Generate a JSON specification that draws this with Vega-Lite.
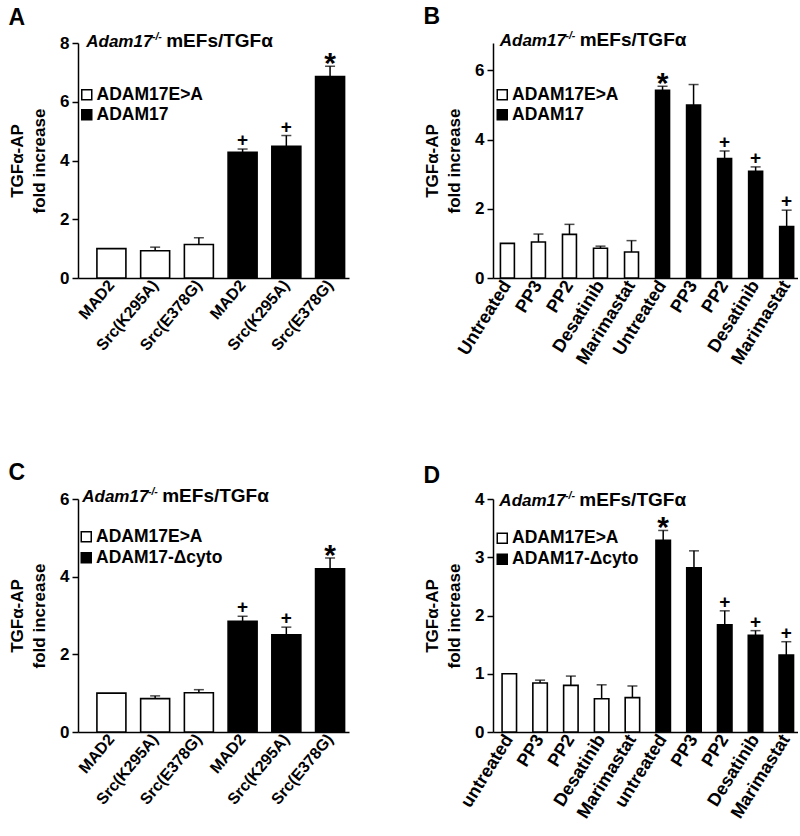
{
  "$schema": "https://vega.github.io/schema/vega-lite/v6.json",
  "background": "white",
  "padding": {"left": 8, "top": 5, "right": 0, "bottom": 0},
  "bounds": "flush",
  "columns": 2,
  "spacing": {"row": 221, "column": 144},
  "resolve": {
    "scale": {"x": "independent", "y": "independent", "fill": "independent"},
    "legend": {"fill": "independent"}
  },
  "config": {
    "font": "Liberation Sans",
    "view": {"stroke": null},
    "axis": {
      "grid": false,
      "labelFont": "Liberation Sans",
      "titleFont": "Liberation Sans",
      "labelFontWeight": "bold",
      "titleFontWeight": "bold",
      "labelColor": "black",
      "titleColor": "black",
      "domainColor": "black",
      "tickColor": "black",
      "domainWidth": 1.5,
      "tickWidth": 1.5
    },
    "legend": {
      "labelFont": "Liberation Sans",
      "labelFontWeight": "bold",
      "labelFontSize": 17.5,
      "labelColor": "black",
      "symbolType": "square",
      "symbolSize": 100,
      "symbolStrokeColor": "black",
      "symbolStrokeWidth": 1.5,
      "labelOffset": 1,
      "rowPadding": 1,
      "padding": 0,
      "title": null
    },
    "title": {
      "font": "Liberation Sans",
      "fontSize": 23,
      "fontWeight": "bold",
      "color": "black",
      "anchor": "start",
      "frame": "bounds",
      "offset": 2
    }
  },
  "datasets": {
    "a": [
      {"k": "1|MAD2", "g": "ADAM17E>A", "v": 1.0, "e": null, "s": ""},
      {"k": "2|Src(K295A)", "g": "ADAM17E>A", "v": 0.93, "e": 1.05, "s": ""},
      {"k": "3|Src(E378G)", "g": "ADAM17E>A", "v": 1.14, "e": 1.37, "s": ""},
      {"k": "4|MAD2", "g": "ADAM17", "v": 4.28, "e": 4.39, "s": "+"},
      {"k": "5|Src(K295A)", "g": "ADAM17", "v": 4.48, "e": 4.85, "s": "+"},
      {"k": "6|Src(E378G)", "g": "ADAM17", "v": 6.86, "e": 7.21, "s": "*"}
    ],
    "b": [
      {"k": "1|Untreated", "g": "ADAM17E>A", "v": 1.0, "e": null, "s": ""},
      {"k": "2|PP3", "g": "ADAM17E>A", "v": 1.04, "e": 1.27, "s": ""},
      {"k": "3|PP2", "g": "ADAM17E>A", "v": 1.26, "e": 1.55, "s": ""},
      {"k": "4|Desatinib", "g": "ADAM17E>A", "v": 0.86, "e": 0.92, "s": ""},
      {"k": "5|Marimastat", "g": "ADAM17E>A", "v": 0.75, "e": 1.08, "s": ""},
      {"k": "6|Untreated", "g": "ADAM17", "v": 5.42, "e": 5.54, "s": "*"},
      {"k": "7|PP3", "g": "ADAM17", "v": 5.0, "e": 5.59, "s": ""},
      {"k": "8|PP2", "g": "ADAM17", "v": 3.45, "e": 3.67, "s": "+"},
      {"k": "9|Desatinib", "g": "ADAM17", "v": 3.08, "e": 3.21, "s": "+"},
      {"k": "10|Marimastat", "g": "ADAM17", "v": 1.49, "e": 1.96, "s": "+"}
    ],
    "c": [
      {"k": "1|MAD2", "g": "ADAM17E>A", "v": 1.0, "e": null, "s": ""},
      {"k": "2|Src(K295A)", "g": "ADAM17E>A", "v": 0.86, "e": 0.93, "s": ""},
      {"k": "3|Src(E378G)", "g": "ADAM17E>A", "v": 1.01, "e": 1.09, "s": ""},
      {"k": "4|MAD2", "g": "ADAM17-Δcyto", "v": 2.85, "e": 2.98, "s": "+"},
      {"k": "5|Src(K295A)", "g": "ADAM17-Δcyto", "v": 2.5, "e": 2.7, "s": "+"},
      {"k": "6|Src(E378G)", "g": "ADAM17-Δcyto", "v": 4.2, "e": 4.48, "s": "*"}
    ],
    "d": [
      {"k": "1|untreated", "g": "ADAM17E>A", "v": 1.0, "e": null, "s": ""},
      {"k": "2|PP3", "g": "ADAM17E>A", "v": 0.84, "e": 0.89, "s": ""},
      {"k": "3|PP2", "g": "ADAM17E>A", "v": 0.8, "e": 0.96, "s": ""},
      {"k": "4|Desatinib", "g": "ADAM17E>A", "v": 0.57, "e": 0.81, "s": ""},
      {"k": "5|Marimastat", "g": "ADAM17E>A", "v": 0.59, "e": 0.79, "s": ""},
      {"k": "6|untreated", "g": "ADAM17-Δcyto", "v": 3.29, "e": 3.46, "s": "*"},
      {"k": "7|PP3", "g": "ADAM17-Δcyto", "v": 2.82, "e": 3.11, "s": ""},
      {"k": "8|PP2", "g": "ADAM17-Δcyto", "v": 1.84, "e": 2.08, "s": "+"},
      {"k": "9|Desatinib", "g": "ADAM17-Δcyto", "v": 1.66, "e": 1.74, "s": "+"},
      {"k": "10|Marimastat", "g": "ADAM17-Δcyto", "v": 1.32, "e": 1.55, "s": "+"}
    ],
    "t": [{"t1": "Adam17", "t2": "-/-", "t3": "mEFs/TGFα"}]
  },
  "concat": [
    {
      "width": 271, "height": 235,
      "title": {"text": "A"},
      "data": {"name": "a"},
      "encoding": {
        "x": {"field": "k", "type": "nominal", "sort": null,
          "scale": {"paddingInner": 0.337, "paddingOuter": 0.267, "align": 0.81},
          "axis": {"title": null, "ticks": false, "labelExpr": "split(datum.label, '|')[1]", "labelAngle": -50, "labelFontSize": 16, "labelPadding": 4}}
      },
      "layer": [
        {"mark": {"type": "bar", "stroke": "black", "strokeWidth": 1.6},
          "encoding": {
            "y": {"field": "v", "type": "quantitative", "scale": {"domain": [0, 8], "nice": false},
              "axis": {"values": [0, 2, 4, 6, 8], "format": "d", "title": ["TGFα-AP", "fold increase"], "titleFontSize": 17, "titleLineHeight": 22, "titlePadding": 11, "labelFontSize": 17, "tickSize": 6, "labelPadding": 3}},
            "fill": {"field": "g", "type": "nominal", "scale": {"domain": ["ADAM17E>A", "ADAM17"], "range": ["white", "black"]},
              "legend": {"orient": "none", "legendX": 0, "legendY": 43}}
          }},
        {"transform": [{"filter": "isValid(datum.e)"}],
          "mark": {"type": "rule", "color": "black", "strokeWidth": 1.5},
          "encoding": {"y": {"field": "v", "type": "quantitative"}, "y2": {"field": "e"}}},
        {"transform": [{"filter": "isValid(datum.e)"}],
          "mark": {"type": "tick", "color": "black", "size": 10, "thickness": 1.5},
          "encoding": {"y": {"field": "e", "type": "quantitative"}}},
        {"transform": [{"filter": "datum.s == '+'"}],
          "mark": {"type": "text", "fontSize": 19, "fontWeight": "bold", "baseline": "alphabetic", "dy": -3, "color": "black"},
          "encoding": {"y": {"field": "e", "type": "quantitative"}, "text": {"field": "s"}}},
        {"transform": [{"filter": "datum.s == '*'"}],
          "mark": {"type": "text", "fontSize": 30, "fontWeight": "bold", "baseline": "alphabetic", "dy": 7, "color": "black"},
          "encoding": {"y": {"field": "e", "type": "quantitative"}, "text": {"field": "s"}}},
        {"data": {"name": "t"},
          "mark": {"type": "text", "fontSize": 17, "fontWeight": "bold", "fontStyle": "italic", "align": "left", "baseline": "alphabetic", "dx": -10.7, "dy": 4.3, "color": "black"},
          "encoding": {"x": {"datum": "1|MAD2", "type": "nominal", "bandPosition": 0}, "y": {"datum": 8, "type": "quantitative"}, "text": {"field": "t1"}}},
        {"data": {"name": "t"},
          "mark": {"type": "text", "fontSize": 10.5, "fontWeight": "bold", "fontStyle": "italic", "align": "left", "baseline": "alphabetic", "dx": 55, "dy": -3, "color": "black"},
          "encoding": {"x": {"datum": "1|MAD2", "type": "nominal", "bandPosition": 0}, "y": {"datum": 8, "type": "quantitative"}, "text": {"field": "t2"}}},
        {"data": {"name": "t"},
          "mark": {"type": "text", "fontSize": 19, "fontWeight": "bold", "align": "left", "baseline": "alphabetic", "dx": 69.3, "dy": 4.3, "color": "black"},
          "encoding": {"x": {"datum": "1|MAD2", "type": "nominal", "bandPosition": 0}, "y": {"datum": 8, "type": "quantitative"}, "text": {"field": "t3"}}}
      ]
    },
    {
      "width": 305, "height": 235,
      "title": {"text": "B"},
      "data": {"name": "b"},
      "encoding": {
        "x": {"field": "k", "type": "nominal", "sort": null,
          "scale": {"paddingInner": 0.55, "paddingOuter": 0.19, "align": 0.63},
          "axis": {"title": null, "ticks": false, "labelExpr": "split(datum.label, '|')[1]", "labelAngle": -58, "labelFontSize": 18, "labelPadding": 4}}
      },
      "layer": [
        {"mark": {"type": "bar", "stroke": "black", "strokeWidth": 1.6},
          "encoding": {
            "y": {"field": "v", "type": "quantitative", "scale": {"domain": [0, 6.79], "nice": false},
              "axis": {"values": [0, 2, 4, 6], "format": "d", "title": ["TGFα-AP", "fold increase"], "titleFontSize": 17, "titleLineHeight": 22, "titlePadding": 11, "labelFontSize": 17, "tickSize": 6, "labelPadding": 3}},
            "fill": {"field": "g", "type": "nominal", "scale": {"domain": ["ADAM17E>A", "ADAM17"], "range": ["white", "black"]},
              "legend": {"orient": "none", "legendX": 0.5, "legendY": 43}}
          }},
        {"transform": [{"filter": "isValid(datum.e)"}],
          "mark": {"type": "rule", "color": "black", "strokeWidth": 1.5},
          "encoding": {"y": {"field": "v", "type": "quantitative"}, "y2": {"field": "e"}}},
        {"transform": [{"filter": "isValid(datum.e)"}],
          "mark": {"type": "tick", "color": "black", "size": 10, "thickness": 1.5},
          "encoding": {"y": {"field": "e", "type": "quantitative"}}},
        {"transform": [{"filter": "datum.s == '+'"}],
          "mark": {"type": "text", "fontSize": 19, "fontWeight": "bold", "baseline": "alphabetic", "dy": -3, "color": "black"},
          "encoding": {"y": {"field": "e", "type": "quantitative"}, "text": {"field": "s"}}},
        {"transform": [{"filter": "datum.s == '*'"}],
          "mark": {"type": "text", "fontSize": 30, "fontWeight": "bold", "baseline": "alphabetic", "dy": 7, "color": "black"},
          "encoding": {"y": {"field": "e", "type": "quantitative"}, "text": {"field": "s"}}},
        {"data": {"name": "t"},
          "mark": {"type": "text", "fontSize": 17, "fontWeight": "bold", "fontStyle": "italic", "align": "left", "baseline": "alphabetic", "dx": -0.7, "dy": 2.7, "color": "black"},
          "encoding": {"x": {"datum": "1|Untreated", "type": "nominal", "bandPosition": 0}, "y": {"datum": 6.79, "type": "quantitative"}, "text": {"field": "t1"}}},
        {"data": {"name": "t"},
          "mark": {"type": "text", "fontSize": 10.5, "fontWeight": "bold", "fontStyle": "italic", "align": "left", "baseline": "alphabetic", "dx": 65, "dy": -4.5, "color": "black"},
          "encoding": {"x": {"datum": "1|Untreated", "type": "nominal", "bandPosition": 0}, "y": {"datum": 6.79, "type": "quantitative"}, "text": {"field": "t2"}}},
        {"data": {"name": "t"},
          "mark": {"type": "text", "fontSize": 19, "fontWeight": "bold", "align": "left", "baseline": "alphabetic", "dx": 79.3, "dy": 2.7, "color": "black"},
          "encoding": {"x": {"datum": "1|Untreated", "type": "nominal", "bandPosition": 0}, "y": {"datum": 6.79, "type": "quantitative"}, "text": {"field": "t3"}}}
      ]
    },
    {
      "width": 271, "height": 233,
      "title": {"text": "C"},
      "data": {"name": "c"},
      "encoding": {
        "x": {"field": "k", "type": "nominal", "sort": null,
          "scale": {"paddingInner": 0.337, "paddingOuter": 0.267, "align": 0.81},
          "axis": {"title": null, "ticks": false, "labelExpr": "split(datum.label, '|')[1]", "labelAngle": -50, "labelFontSize": 16, "labelPadding": 4}}
      },
      "layer": [
        {"mark": {"type": "bar", "stroke": "black", "strokeWidth": 1.6},
          "encoding": {
            "y": {"field": "v", "type": "quantitative", "scale": {"domain": [0, 6], "nice": false},
              "axis": {"values": [0, 2, 4, 6], "format": "d", "title": ["TGFα-AP", "fold increase"], "titleFontSize": 17, "titleLineHeight": 22, "titlePadding": 11, "labelFontSize": 17, "tickSize": 6, "labelPadding": 3}},
            "fill": {"field": "g", "type": "nominal", "scale": {"domain": ["ADAM17E>A", "ADAM17-Δcyto"], "range": ["white", "black"]},
              "legend": {"orient": "none", "legendX": -0.5, "legendY": 29, "rowPadding": 2}}
          }},
        {"transform": [{"filter": "isValid(datum.e)"}],
          "mark": {"type": "rule", "color": "black", "strokeWidth": 1.5},
          "encoding": {"y": {"field": "v", "type": "quantitative"}, "y2": {"field": "e"}}},
        {"transform": [{"filter": "isValid(datum.e)"}],
          "mark": {"type": "tick", "color": "black", "size": 10, "thickness": 1.5},
          "encoding": {"y": {"field": "e", "type": "quantitative"}}},
        {"transform": [{"filter": "datum.s == '+'"}],
          "mark": {"type": "text", "fontSize": 19, "fontWeight": "bold", "baseline": "alphabetic", "dy": -3, "color": "black"},
          "encoding": {"y": {"field": "e", "type": "quantitative"}, "text": {"field": "s"}}},
        {"transform": [{"filter": "datum.s == '*'"}],
          "mark": {"type": "text", "fontSize": 30, "fontWeight": "bold", "baseline": "alphabetic", "dy": 7, "color": "black"},
          "encoding": {"y": {"field": "e", "type": "quantitative"}, "text": {"field": "s"}}},
        {"data": {"name": "t"},
          "mark": {"type": "text", "fontSize": 17, "fontWeight": "bold", "fontStyle": "italic", "align": "left", "baseline": "alphabetic", "dx": -14.7, "dy": 3.3, "color": "black"},
          "encoding": {"x": {"datum": "1|MAD2", "type": "nominal", "bandPosition": 0}, "y": {"datum": 6, "type": "quantitative"}, "text": {"field": "t1"}}},
        {"data": {"name": "t"},
          "mark": {"type": "text", "fontSize": 10.5, "fontWeight": "bold", "fontStyle": "italic", "align": "left", "baseline": "alphabetic", "dx": 51, "dy": -4, "color": "black"},
          "encoding": {"x": {"datum": "1|MAD2", "type": "nominal", "bandPosition": 0}, "y": {"datum": 6, "type": "quantitative"}, "text": {"field": "t2"}}},
        {"data": {"name": "t"},
          "mark": {"type": "text", "fontSize": 19, "fontWeight": "bold", "align": "left", "baseline": "alphabetic", "dx": 65.3, "dy": 3.3, "color": "black"},
          "encoding": {"x": {"datum": "1|MAD2", "type": "nominal", "bandPosition": 0}, "y": {"datum": 6, "type": "quantitative"}, "text": {"field": "t3"}}}
      ]
    },
    {
      "width": 305, "height": 233,
      "title": {"text": "D"},
      "data": {"name": "d"},
      "encoding": {
        "x": {"field": "k", "type": "nominal", "sort": null,
          "scale": {"paddingInner": 0.53, "paddingOuter": 0.22, "align": 0.67},
          "axis": {"title": null, "ticks": false, "labelExpr": "split(datum.label, '|')[1]", "labelAngle": -58, "labelFontSize": 18, "labelPadding": 4}}
      },
      "layer": [
        {"mark": {"type": "bar", "stroke": "black", "strokeWidth": 1.6},
          "encoding": {
            "y": {"field": "v", "type": "quantitative", "scale": {"domain": [0, 4], "nice": false},
              "axis": {"values": [0, 1, 2, 3, 4], "format": "d", "title": ["TGFα-AP", "fold increase"], "titleFontSize": 17, "titleLineHeight": 22, "titlePadding": 11, "labelFontSize": 17, "tickSize": 6, "labelPadding": 3}},
            "fill": {"field": "g", "type": "nominal", "scale": {"domain": ["ADAM17E>A", "ADAM17-Δcyto"], "range": ["white", "black"]},
              "legend": {"orient": "none", "legendX": 0.5, "legendY": 30.5, "rowPadding": 2}}
          }},
        {"transform": [{"filter": "isValid(datum.e)"}],
          "mark": {"type": "rule", "color": "black", "strokeWidth": 1.5},
          "encoding": {"y": {"field": "v", "type": "quantitative"}, "y2": {"field": "e"}}},
        {"transform": [{"filter": "isValid(datum.e)"}],
          "mark": {"type": "tick", "color": "black", "size": 10, "thickness": 1.5},
          "encoding": {"y": {"field": "e", "type": "quantitative"}}},
        {"transform": [{"filter": "datum.s == '+'"}],
          "mark": {"type": "text", "fontSize": 19, "fontWeight": "bold", "baseline": "alphabetic", "dy": -3, "color": "black"},
          "encoding": {"y": {"field": "e", "type": "quantitative"}, "text": {"field": "s"}}},
        {"transform": [{"filter": "datum.s == '*'"}],
          "mark": {"type": "text", "fontSize": 30, "fontWeight": "bold", "baseline": "alphabetic", "dy": 7, "color": "black"},
          "encoding": {"y": {"field": "e", "type": "quantitative"}, "text": {"field": "s"}}},
        {"data": {"name": "t"},
          "mark": {"type": "text", "fontSize": 17, "fontWeight": "bold", "fontStyle": "italic", "align": "left", "baseline": "alphabetic", "dx": -2.7, "dy": 7, "color": "black"},
          "encoding": {"x": {"datum": "1|untreated", "type": "nominal", "bandPosition": 0}, "y": {"datum": 4, "type": "quantitative"}, "text": {"field": "t1"}}},
        {"data": {"name": "t"},
          "mark": {"type": "text", "fontSize": 10.5, "fontWeight": "bold", "fontStyle": "italic", "align": "left", "baseline": "alphabetic", "dx": 63, "dy": -0.5, "color": "black"},
          "encoding": {"x": {"datum": "1|untreated", "type": "nominal", "bandPosition": 0}, "y": {"datum": 4, "type": "quantitative"}, "text": {"field": "t2"}}},
        {"data": {"name": "t"},
          "mark": {"type": "text", "fontSize": 19, "fontWeight": "bold", "align": "left", "baseline": "alphabetic", "dx": 77.3, "dy": 7, "color": "black"},
          "encoding": {"x": {"datum": "1|untreated", "type": "nominal", "bandPosition": 0}, "y": {"datum": 4, "type": "quantitative"}, "text": {"field": "t3"}}}
      ]
    }
  ]
}
